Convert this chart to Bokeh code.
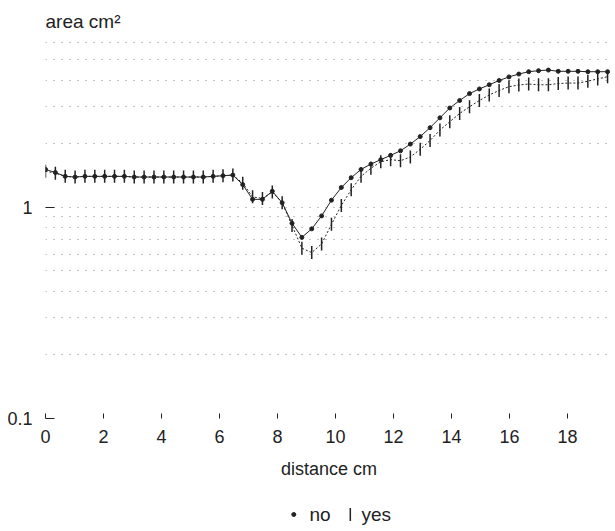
import numpy as np
from bokeh.plotting import figure
from bokeh.layouts import column
from bokeh.models import FixedTicker, CustomJSTickFormatter
from bokeh.core.properties import value
from bokeh.embed import file_html
from bokeh.resources import INLINE

# distance (cm), sampled every 0.34 cm
distance = [round(0.34 * i, 2) for i in range(58)]

area_no = [1.51, 1.46, 1.40, 1.39, 1.40, 1.40, 1.40, 1.40, 1.40, 1.39,
           1.39, 1.39, 1.39, 1.39, 1.39, 1.39, 1.39, 1.40, 1.41, 1.42,
           1.28, 1.09, 1.09, 1.19, 1.05, 0.84, 0.72, 0.79, 0.91, 1.08,
           1.24, 1.38, 1.51, 1.60, 1.68, 1.76, 1.85, 1.99, 2.16, 2.38,
           2.65, 2.95, 3.20, 3.45, 3.63, 3.80, 3.98, 4.14, 4.27, 4.38,
           4.43, 4.46, 4.40, 4.40, 4.40, 4.38, 4.38, 4.38]

area_yes = [1.48, 1.45, 1.40, 1.39, 1.40, 1.40, 1.40, 1.40, 1.40, 1.39,
            1.39, 1.39, 1.39, 1.39, 1.39, 1.39, 1.39, 1.40, 1.41, 1.42,
            1.30, 1.12, 1.10, 1.18, 1.05, 0.82, 0.64, 0.61, 0.67, 0.83,
            1.02, 1.21, 1.40, 1.53, 1.64, 1.68, 1.66, 1.73, 1.88, 2.07,
            2.32, 2.54, 2.78, 2.99, 3.20, 3.40, 3.57, 3.72, 3.79, 3.83,
            3.80, 3.80, 3.85, 3.87, 3.87, 3.95, 4.05, 4.15]

x_ticks = [0, 2, 4, 6, 8, 10, 12, 14, 16, 18]
y_ticks = [0.1, 1]
y_minor = [0.2, 0.3, 0.4, 0.5, 0.6, 0.7, 0.8, 0.9, 2, 3, 4, 5, 6]

legend_labels = ["no", "yes"]

FONT = "Liberation Sans"
INK = "#222222"
W = 612

p = figure(width=W, height=500, y_axis_type="log",
           x_range=(0, 19.55), y_range=(0.1, 6.5),
           output_backend="svg", toolbar_location=None,
           min_border_left=45, min_border_right=0,
           min_border_top=35, min_border_bottom=82)

p.outline_line_color = None
p.background_fill_color = "white"

p.title.text = "area cm\u00b2"
p.title.text_font = FONT
p.title.text_font_size = "19px"
p.title.text_font_style = "normal"
p.title.text_color = INK
p.title.align = "left"
p.title.standoff = 8

# grid
p.xgrid.grid_line_color = None
p.ygrid.grid_line_color = "#8a8a8a"
p.ygrid.grid_line_dash = "1 7"
p.ygrid.minor_grid_line_color = "#8a8a8a"
p.ygrid.minor_grid_line_dash = "1 7"

# axes
p.xaxis.ticker = FixedTicker(ticks=x_ticks)
p.yaxis.ticker = FixedTicker(ticks=y_ticks, minor_ticks=y_minor)
p.yaxis.formatter = CustomJSTickFormatter(code="return tick.toString();")
for ax in (p.xaxis, p.yaxis):
    ax.axis_line_color = None
    ax.major_tick_out = 0
    ax.minor_tick_line_color = None
    ax.major_tick_line_color = INK
    ax.major_label_text_font = FONT
    ax.major_label_text_font_size = "18px"
    ax.major_label_text_color = INK
p.xaxis.major_tick_in = 5
p.yaxis.major_tick_in = 9
p.xaxis.major_label_standoff = 11
p.yaxis.major_label_standoff = 9
p.xaxis.axis_label = "distance cm"
p.xaxis.axis_label_text_font = FONT
p.xaxis.axis_label_text_font_size = "18px"
p.xaxis.axis_label_text_font_style = "normal"
p.xaxis.axis_label_text_color = INK
p.xaxis.axis_label_standoff = 13

# series
p.line(distance, area_no, line_color=INK, line_width=1)
p.scatter(distance, area_no, marker="circle", size=4,
          fill_color=INK, line_color=INK)
p.line(distance, area_yes, line_color=INK, line_width=1, line_dash="2 2")
p.scatter(distance, area_yes, marker="dash", angle=np.pi / 2,
          size=13, line_color=INK, line_width=1.5)

# legend strip (screen-pixel coordinates)
lf = figure(width=W, height=30, x_range=(0, W), y_range=(0, 30),
            output_backend="svg", toolbar_location=None,
            x_axis_location=None, y_axis_location=None,
            min_border=0, min_border_left=0, min_border_right=0,
            min_border_top=0, min_border_bottom=0)
lf.grid.visible = False
lf.outline_line_color = None
lf.scatter([268], [16], marker="circle", size=4, fill_color=INK, line_color=INK)
lf.scatter([329], [16], marker="dash", angle=np.pi / 2, size=13,
           line_color=INK, line_width=1.5)
lf.text(x=[285, 341], y=[16, 16], text=legend_labels,
        text_font=value(FONT), text_font_size="19px", text_color=INK,
        text_baseline="middle", text_align="left")

open("out.html", "w").write(file_html(column(p, lf), INLINE))
